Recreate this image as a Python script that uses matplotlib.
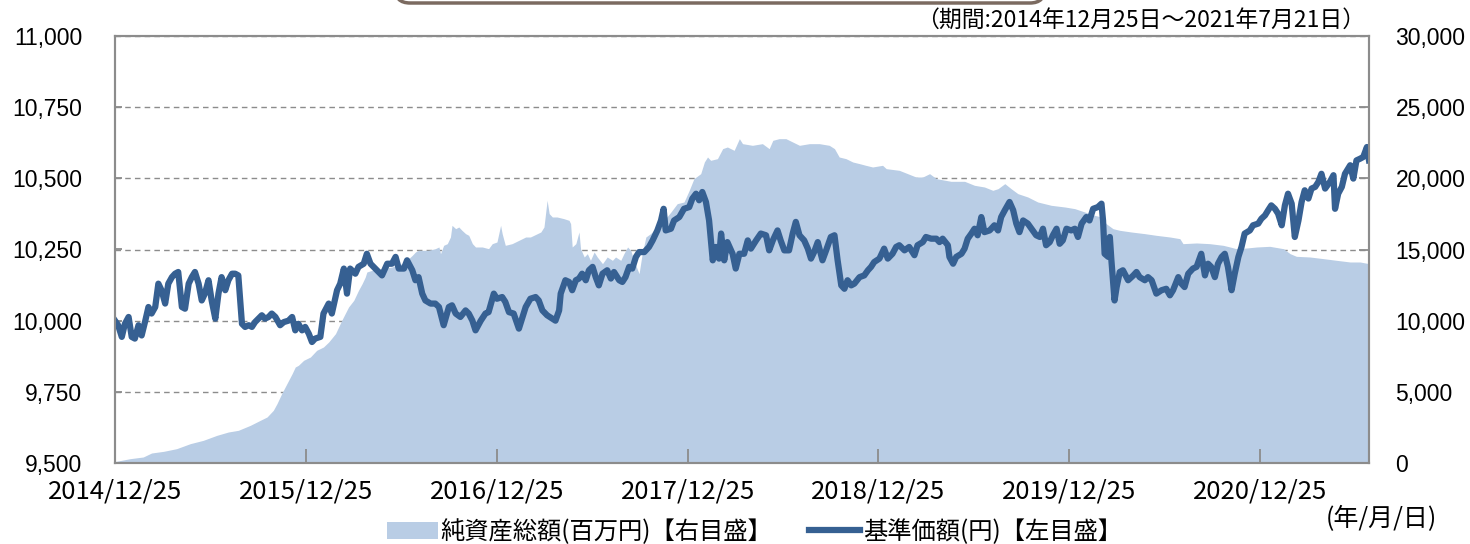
import matplotlib
matplotlib.use('Agg')
import matplotlib.pyplot as plt
from matplotlib.patches import FancyBboxPatch, Patch
from matplotlib.lines import Line2D
import pandas as pd

jp_font = ['Noto Sans CJK JP', 'DejaVu Sans']
num_font = ['Liberation Sans', 'DejaVu Sans']

# 期間
start = pd.Timestamp('2014-12-25')
end = pd.Timestamp('2021-07-21')

# 基準価額(円) : 設定日からの経過日数, 値
nav_day = [
    0, 6, 13, 19, 26, 32, 38, 45, 51, 58, 64, 70, 77, 83, 89, 96, 102, 109, 115, 121,
    128, 134, 141, 147, 153, 160, 166, 172, 179, 185, 192, 198, 204, 211, 217, 224, 230, 236, 243, 249,
    256, 262, 268, 281, 287, 294, 300, 307, 316, 323, 332, 339, 345, 351, 358, 364, 371, 377, 383, 393,
    399, 409, 415, 425, 431, 438, 444, 450, 460, 466, 476, 482, 489, 498, 511, 521, 530, 537, 543, 553,
    559, 569, 575, 581, 588, 594, 604, 613, 620, 629, 639, 645, 652, 661, 671, 677, 684, 690, 700, 709,
    715, 725, 731, 741, 747, 754, 763, 773, 786, 795, 805, 811, 818, 827, 837, 843, 850, 853, 862, 869,
    875, 882, 888, 894, 901, 907, 914, 920, 926, 933, 942, 949, 955, 965, 971, 977, 984, 990, 997, 1003,
    1013, 1022, 1029, 1038, 1045, 1050, 1054, 1064, 1070, 1080, 1089, 1099, 1105, 1112, 1118, 1124, 1131, 1137, 1144, 1150,
    1156, 1160, 1166, 1172, 1182, 1188, 1195, 1204, 1211, 1217, 1227, 1236, 1246, 1252, 1259, 1268, 1274, 1281, 1290, 1297,
    1303, 1310, 1319, 1326, 1332, 1338, 1345, 1354, 1361, 1370, 1377, 1383, 1390, 1396, 1402, 1409, 1415, 1425, 1434, 1441,
    1447, 1453, 1463, 1472, 1479, 1488, 1495, 1501, 1511, 1520, 1530, 1536, 1546, 1552, 1562, 1572, 1578, 1584, 1594, 1597,
    1604, 1610, 1620, 1626, 1632, 1639, 1645, 1651, 1658, 1664, 1674, 1683, 1690, 1696, 1703, 1712, 1719, 1725, 1731, 1738,
    1747, 1754, 1763, 1770, 1776, 1782, 1789, 1795, 1802, 1808, 1814, 1821, 1830, 1837, 1843, 1850, 1859, 1865, 1872, 1881,
    1888, 1891, 1894, 1901, 1904, 1907, 1913, 1917, 1923, 1929, 1939, 1949, 1955, 1961, 1971, 1977, 1984, 1993, 2003, 2012,
    2019, 2025, 2035, 2041, 2047, 2054, 2063, 2070, 2079, 2086, 2092, 2098, 2105, 2111, 2118, 2124, 2130, 2137, 2143, 2150,
    2156, 2162, 2172, 2178, 2188, 2194, 2201, 2207, 2213, 2220, 2226, 2233, 2239, 2245, 2252, 2258, 2265, 2271, 2277, 2284,
    2290, 2297, 2303, 2309, 2316, 2325, 2332, 2335, 2341, 2348, 2354, 2364, 2370, 2376, 2383, 2389, 2396, 2400,
]
nav_value = [
    10000, 9984, 9943, 9989, 10013, 9943, 9937, 9984, 9948, 10000, 10048, 10025, 10048, 10130, 10107, 10060, 10130, 10153, 10165, 10171,
    10048, 10042, 10130, 10153, 10171, 10130, 10071, 10095, 10142, 10071, 10007, 10095, 10153, 10107, 10142, 10165, 10165, 10159, 9989, 9978,
    9984, 9978, 9995, 10019, 10007, 10013, 10025, 10013, 9984, 9995, 10000, 10013, 9966, 9989, 9966, 9978, 9954, 9925, 9937, 9943,
    10025, 10060, 10025, 10107, 10130, 10183, 10095, 10183, 10165, 10189, 10200, 10235, 10200, 10183, 10159, 10200, 10200, 10224, 10183, 10183,
    10212, 10177, 10142, 10153, 10095, 10071, 10060, 10060, 10048, 9984, 10048, 10054, 10025, 10013, 10036, 10025, 10000, 9966, 10000, 10025,
    10030, 10095, 10077, 10083, 10066, 10030, 10025, 9972, 10048, 10077, 10083, 10071, 10036, 10019, 10007, 10000, 10036, 10095, 10142, 10136,
    10107, 10142, 10148, 10165, 10142, 10177, 10189, 10153, 10124, 10165, 10177, 10148, 10171, 10142, 10136, 10153, 10189, 10183, 10224, 10241,
    10241, 10259, 10282, 10317, 10352, 10393, 10317, 10323, 10352, 10364, 10393, 10399, 10429, 10446, 10423, 10452, 10417, 10352, 10212, 10259,
    10218, 10306, 10212, 10276, 10235, 10183, 10235, 10235, 10282, 10253, 10282, 10306, 10300, 10247, 10282, 10317, 10282, 10247, 10247, 10306,
    10347, 10300, 10282, 10253, 10218, 10241, 10276, 10212, 10247, 10294, 10300, 10212, 10124, 10112, 10142, 10124, 10130, 10153, 10159, 10177,
    10189, 10206, 10218, 10253, 10218, 10235, 10259, 10265, 10247, 10259, 10230, 10265, 10276, 10294, 10288, 10288, 10276, 10288, 10265, 10224,
    10200, 10224, 10235, 10253, 10288, 10306, 10323, 10300, 10364, 10311, 10317, 10335, 10317, 10364, 10388, 10417, 10388, 10341, 10311, 10352,
    10341, 10323, 10300, 10294, 10323, 10265, 10276, 10300, 10323, 10270, 10282, 10323, 10317, 10323, 10294, 10341, 10364, 10352, 10393, 10399,
    10411, 10352, 10235, 10224, 10294, 10212, 10071, 10118, 10171, 10177, 10142, 10159, 10171, 10153, 10142, 10153, 10142, 10095, 10107, 10112,
    10089, 10107, 10153, 10130, 10118, 10165, 10183, 10189, 10235, 10159, 10200, 10189, 10153, 10200, 10224, 10235, 10189, 10107, 10165, 10224,
    10259, 10306, 10317, 10335, 10341, 10358, 10370, 10388, 10405, 10393, 10376, 10335, 10405, 10446, 10411, 10294, 10352, 10417, 10458, 10429,
    10464, 10470, 10487, 10516, 10464, 10487, 10511, 10393, 10446, 10470, 10516, 10546, 10499, 10563, 10569, 10575, 10610, 10563,
]

# 純資産総額(百万円)
aum_day = [
    0, 29, 54, 70, 93, 118, 144, 169, 195, 217, 236, 259, 278, 291, 303, 310, 319, 329, 339, 345,
    351, 361, 374, 386, 399, 409, 422, 434, 447, 457, 466, 473, 479, 482, 492, 511, 530, 549, 562, 569,
    575, 581, 600, 613, 620, 623, 629, 636, 642, 645, 652, 658, 664, 671, 677, 684, 690, 703, 715, 722,
    731, 738, 741, 747, 760, 773, 786, 795, 815, 821, 827, 831, 837, 846, 859, 869, 872, 875, 882, 888,
    891, 898, 904, 910, 917, 923, 933, 942, 952, 958, 968, 974, 981, 987, 993, 1003, 1009, 1016, 1025, 1038,
    1051, 1064, 1076, 1089, 1099, 1108, 1121, 1128, 1134, 1140, 1153, 1163, 1172, 1185, 1195, 1201, 1220, 1239, 1252, 1259,
    1271, 1284, 1297, 1310, 1329, 1348, 1367, 1377, 1386, 1399, 1412, 1425, 1437, 1450, 1469, 1476, 1501, 1517, 1533, 1546,
    1559, 1572, 1600, 1626, 1645, 1664, 1680, 1690, 1703, 1715, 1728, 1747, 1766, 1792, 1818, 1837, 1856, 1875, 1888, 1897,
    1910, 1923, 1945, 1971, 1993, 2019, 2038, 2044, 2070, 2095, 2121, 2134, 2146, 2166, 2185, 2210, 2236, 2249, 2261, 2287,
    2313, 2338, 2364, 2383, 2400,
]
aum_value = [
    100, 304, 421, 702, 819, 1007, 1358, 1592, 1943, 2178, 2295, 2646, 2997, 3232, 3700, 4169, 4871, 5574, 6276, 6744,
    6862, 7213, 7447, 7916, 8150, 8501, 9087, 10023, 10960, 11429, 12131, 12600, 13068, 13419, 13536, 13653, 13771, 14005, 14356, 14590,
    14825, 14942, 14942, 15059, 15176, 14707, 15293, 15410, 15878, 16698, 16464, 16581, 16347, 16113, 15996, 15410, 15176, 15176, 15059, 15410,
    15527, 16698, 16113, 15293, 15410, 15644, 15878, 15878, 16230, 16581, 18455, 17518, 17284, 17284, 17167, 17049, 16815, 15176, 15410, 16230,
    15059, 14473, 14707, 14239, 14825, 14473, 14005, 14473, 14239, 14473, 14239, 14707, 15176, 14942, 14239, 13302, 14707, 15878, 16113, 16581,
    17049, 17635, 18220, 18337, 19157, 19977, 20328, 21148, 21499, 21265, 21382, 22085, 22202, 21967, 22787, 22436, 22319, 22436, 22085, 22670,
    22787, 22787, 22553, 22319, 22436, 22436, 22319, 22085, 21499, 21382, 21148, 21031, 20914, 20797, 20914, 20680, 20562, 20328, 20094, 20094,
    20328, 19977, 19790, 19790, 19509, 19391, 19157, 19274, 19626, 19274, 18923, 18689, 18338, 18103, 17986, 17869, 17635, 17401, 17284, 16815,
    16464, 16347, 16230, 16113, 15995, 15878, 15761, 15410, 15459, 15410, 15293, 15176, 15059, 15106, 15176, 15223, 15059, 14707, 14520, 14473,
    14356, 14239, 14122, 14122, 14005,
]

tick_dates = ['2014-12-25', '2015-12-25', '2016-12-25', '2017-12-25',
              '2018-12-25', '2019-12-25', '2020-12-25']
nav_ticks = [9500, 9750, 10000, 10250, 10500, 10750, 11000]
aum_ticks = [0, 5000, 10000, 15000, 20000, 25000, 30000]

nav_dates = start + pd.to_timedelta(nav_day, unit='D')
aum_dates = start + pd.to_timedelta(aum_day, unit='D')

line_color = '#366092'
area_color = '#b9cde5'
frame_color = '#8c8c8c'

fig = plt.figure(figsize=(14.7, 5.44), dpi=100)
ax = fig.add_axes([115 / 1470, 81 / 544, 1254 / 1470, 427 / 544])
ax2 = ax.twinx()

# 純資産総額 (右目盛) を背面に
ax2.fill_between(aum_dates, aum_value, 0, color=area_color, lw=0)
ax2.set_ylim(0, 30000)
ax2.set_yticks(aum_ticks)
ax2.set_yticklabels([f'{v:,}' for v in aum_ticks], family=num_font, fontsize=16.5)
ax2.yaxis.grid(True, color=frame_color, ls=(0, (4, 3)), lw=1)
ax2.set_axisbelow(True)
ax2.tick_params(axis='y', direction='in', length=7, width=1.3, color=frame_color, pad=19)

# 基準価額 (左目盛) を前面に
ax.set_zorder(ax2.get_zorder() + 1)
ax.patch.set_visible(False)
ax.plot(nav_dates, nav_value, color=line_color, lw=4.5, solid_joinstyle='round')
ax.set_ylim(9500, 11000)
ax.set_yticks(nav_ticks)
ax.set_yticklabels([f'{v:,}' for v in nav_ticks], family=num_font, fontsize=16.5)
ax.tick_params(axis='y', direction='in', length=5, width=1.3, color=frame_color, pad=23.5)

ax.set_xlim(start, end)
ax.set_xticks(pd.to_datetime(tick_dates))
ax.set_xticklabels([d.replace('-', '/') for d in tick_dates], family=jp_font, fontsize=18.5)
ax.tick_params(axis='x', direction='in', length=10, width=1.3, color=frame_color, pad=11)

for a in (ax, ax2):
    for sp in a.spines.values():
        sp.set_color(frame_color)
        sp.set_linewidth(1.5)

# 凡例
handles = [Patch(facecolor=area_color, edgecolor='none'),
           Line2D([], [], color=line_color, lw=4.5)]
labels = ['純資産総額(百万円)【右目盛】', '基準価額(円)【左目盛】']
fig.legend(handles, labels, loc='center', bbox_to_anchor=(0.513, 0.022), ncol=2,
           frameon=False, prop={'family': jp_font, 'size': 17.5},
           handlelength=2.1, handleheight=0.75, handletextpad=0.12, columnspacing=1.5)

fig.text(1365 / 1470, 1 - 20 / 544, '（期間:2014年12月25日～2021年7月21日）',
         ha='right', va='center', family=jp_font, fontsize=16.5)
fig.text(1381 / 1470, 1 - 519 / 544, '(年/月/日)',
         ha='center', va='center', family=jp_font, fontsize=18)

# 上部の見出し枠の下端
box = FancyBboxPatch((3.95, 5.41), 6.5, 0.6, boxstyle='round,pad=0,rounding_size=0.15',
                     transform=fig.dpi_scale_trans, fc='white', ec='#7b6a60', lw=2.5)
fig.add_artist(box)

fig.savefig('out.png', dpi=100)
